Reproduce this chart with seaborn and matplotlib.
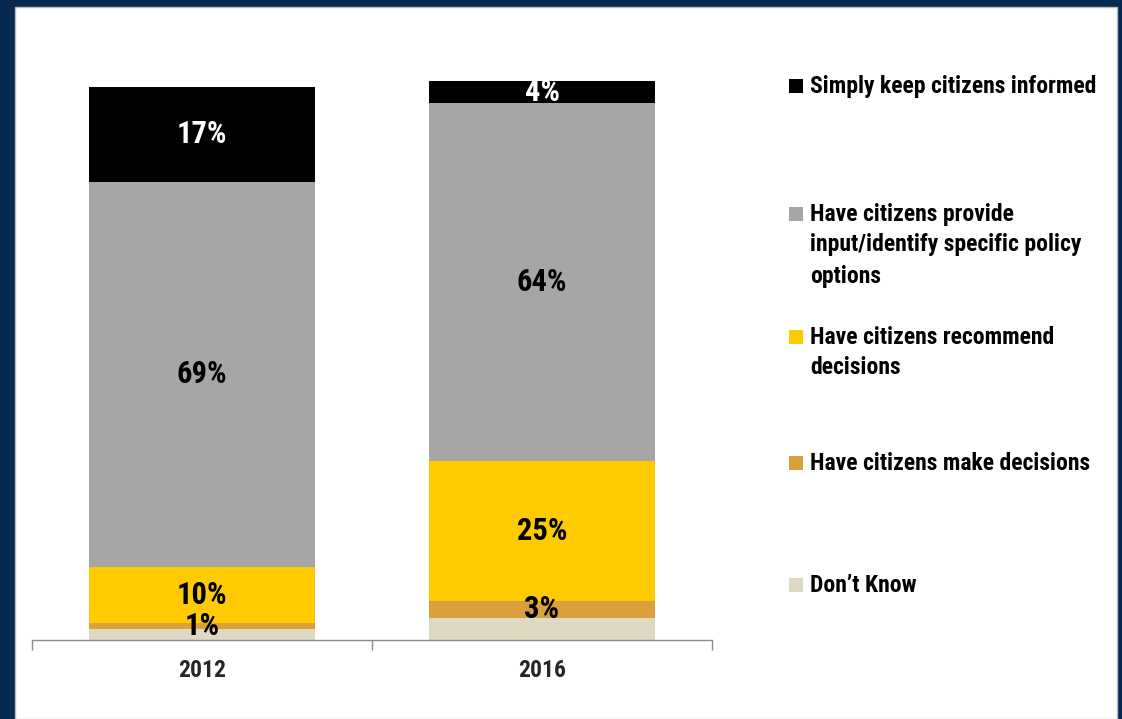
import pandas as pd
import seaborn as sns
import matplotlib.pyplot as plt
from matplotlib.patches import Rectangle
from matplotlib import font_manager

# data (percent of respondents, stacked bottom -> top)
years = ['2012', '2016']
dont_know = [2, 4]
make_decisions = [1, 3]
recommend = [10, 25]
provide_input = [69, 64]
keep_informed = [17, 4]

series_names = ["Don’t Know",
                'Have citizens make decisions',
                'Have citizens recommend\ndecisions',
                'Have citizens provide\ninput/identify specific policy\noptions',
                'Simply keep citizens informed']
series_values = [dont_know, make_decisions, recommend, provide_input, keep_informed]
series_colors = ['#DDD9C3', '#D9A03C', '#FFCA00', '#A6A6A6', '#000000']
label_colors = ['black', 'black', 'black', 'black', 'white']
show_label = [False, True, True, True, True]

W, H = 1122, 719

# pick a narrow bold face if one is installed
names = {f.name for f in font_manager.fontManager.ttflist}
narrow = [n for n in ['Liberation Sans Narrow', 'Roboto Condensed', 'Open Sans Condensed']
          if n in names]
FONT = narrow[:1] + ['DejaVu Sans']

sns.set_style('white')
plt.rcParams['font.family'] = FONT
plt.rcParams['font.weight'] = 'bold'
plt.rcParams['font.stretch'] = 'condensed'

fig = plt.figure(figsize=(W / 100, H / 100), dpi=100)
fig.patch.set_facecolor('#062A4F')
# white panel inside the navy frame
fig.patches.append(Rectangle((15 / W, 0), (1117 - 15) / W, (H - 7) / H,
                             transform=fig.transFigure, facecolor='white',
                             edgecolor='#BBBBBB', linewidth=1, zorder=-5))

ax = fig.add_axes([32 / W, 79 / H, 680 / W, 615 / H])
ax.set_facecolor('none')
ax.set_zorder(2)

# long table with cumulative tops
rows = []
for name, vals in zip(series_names, series_values):
    for yr, v in zip(years, vals):
        rows.append({'year': yr, 'series': name, 'value': v})
df = pd.DataFrame(rows)
df['top'] = df.groupby('year')['value'].cumsum()
df['bottom'] = df['top'] - df['value']

# draw tallest cumulative first so each lower segment covers it
for name, color in reversed(list(zip(series_names, series_colors))):
    sub = df[df['series'] == name]
    sns.barplot(data=sub, x='year', y='top', order=years, color=color,
                width=0.665, saturation=1, edgecolor='none', ax=ax)

for name, lc, show in zip(series_names, label_colors, show_label):
    if not show:
        continue
    sub = df[df['series'] == name]
    for i, yr in enumerate(years):
        r = sub[sub['year'] == yr].iloc[0]
        ax.text(i, r['bottom'] + r['value'] / 2, f"{r['value']}%",
                ha='center', va='center', color=lc, fontsize=22,
                fontweight='bold')

ax.set_xlim(-0.5, 1.5)
ax.set_ylim(0, 110)
ax.set_yticks([])
ax.set_xlabel('')
ax.set_ylabel('')
for s in ['top', 'right', 'left']:
    ax.spines[s].set_visible(False)
ax.spines['bottom'].set_color('#8C8C8C')
ax.spines['bottom'].set_linewidth(1)
ax.set_xticks([-0.5, 0.5, 1.5])
ax.set_xticklabels([])
ax.set_xticks([0, 1], minor=True)
ax.set_xticklabels(years, minor=True, fontsize=17, fontweight='bold')
ax.tick_params(axis='x', which='major', bottom=True, length=7, width=1,
               color='#8C8C8C', direction='out')
ax.tick_params(axis='x', which='minor', bottom=True, length=0, pad=14)

# legend on the right, top entry first
legend_tops = [86, 214, 337, 463, 585]
line_gap = 31
for name, color, y0 in zip(reversed(series_names), reversed(series_colors), legend_tops):
    fig.patches.append(Rectangle((789 / W, (H - y0 - 7) / H), 14 / W, 14 / H,
                                 transform=fig.transFigure, facecolor=color,
                                 edgecolor='none'))
    for k, line in enumerate(name.split('\n')):
        fig.text(810 / W, (H - (y0 + k * line_gap)) / H, line,
                 ha='left', va='center', fontsize=17, fontweight='bold',
                 color='black')

fig.savefig('out.png', dpi=100, facecolor=fig.get_facecolor())
